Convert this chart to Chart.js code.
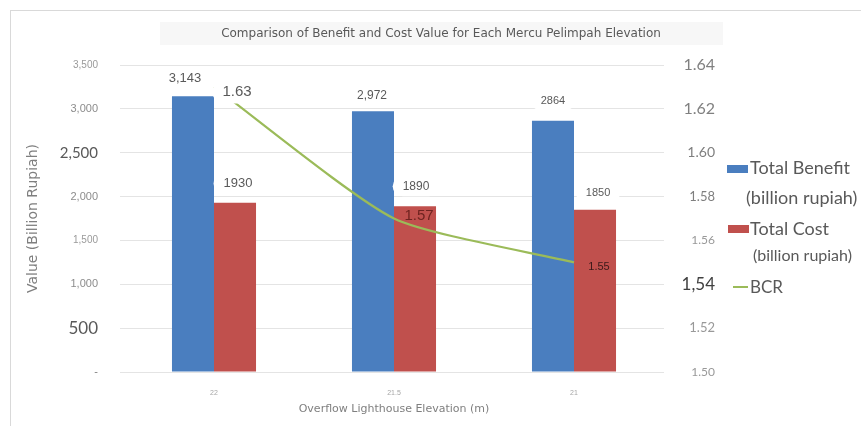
<!DOCTYPE html>
<html>
<head>
<meta charset="utf-8">
<title>Benefit and Cost by Mercu Pelimpah Elevation</title>
<script src="https://cdn.jsdelivr.net/npm/chart.js@4.4.1/dist/chart.umd.min.js"></script>
<style>
  html, body { margin: 0; padding: 0; background: #fff; overflow: hidden; }
  #wrap { position: relative; width: 861px; height: 426px; overflow: hidden; }
  #frame { position: absolute; left: 10px; top: 10px; width: 900px; height: 500px; border: 1px solid #d9d9d9; box-sizing: border-box; }
  #chart { position: absolute; left: 0; top: 0; }
  .legend-text { position: absolute; font-family: Lato, "Open Sans", sans-serif; color: #595959; white-space: nowrap; line-height: 1; }
  .legend-swatch { position: absolute; }
</style>
</head>
<body>
<div id="wrap">
  <div id="frame"></div>
  <canvas id="chart" width="861" height="426"></canvas>
  <div id="legend"></div>
</div>
<script>
// Values per crest elevation
const elevations = ['22', '21.5', '21'];
const totalBenefit = [3143, 2972, 2864];
const totalCost = [1930, 1890, 1850];
const bcr = [1.63, 1.57, 1.55];

// Text shown on the marks
const benefitLabels = ['3,143', '2,972', '2864'];
const costLabels = ['1930', '1890', '1850'];
const bcrLabels = ['1.63', '1.57', '1.55'];

// Axis tick text, bottom to top
const valueTicks = ['-', '500', '1,000', '1,500', '2,000', '2,500', '3,000', '3,500'];
const bcrTicks = ['1.50', '1.52', '1,54', '1.56', '1.58', '1.60', '1.62', '1.64'];

const BLUE = '#4a7ebf';
const RED = '#c0504d';
const GREEN = '#9bbb59';

// Heading with its pale backing strip
const chartHeading = {
    id: 'chartHeading',
    beforeDraw(chart, args, opts) {
        const ctx = chart.ctx;
        ctx.save();
        ctx.fillStyle = '#f7f7f7';
        ctx.fillRect(160, 22, 563, 23);
        ctx.font = '12px "DejaVu Sans", sans-serif';
        ctx.fillStyle = '#595959';
        ctx.textAlign = 'center';
        ctx.textBaseline = 'middle';
        ctx.fillText(opts.text, 441, 34);
        ctx.restore();
    }
};

// Value labels next to bars and line points
const valueLabels = {
    id: 'valueLabels',
    afterDatasetsDraw(chart, args, opts) {
        const ctx = chart.ctx;
        opts.sets.forEach((set, di) => {
            const meta = chart.getDatasetMeta(di);
            meta.data.forEach((el, i) => {
                const x = el.x + set.dx[i];
                const y = el.y + set.dy[i];
                ctx.save();
                ctx.font = set.size[i] + 'px "Liberation Sans", Arial, sans-serif';
                ctx.textAlign = 'center';
                ctx.textBaseline = 'middle';
                if (set.box[i]) {
                    const w = ctx.measureText(set.texts[i]).width + 20;
                    const h = set.size[i] + 8;
                    ctx.fillStyle = '#ffffff';
                    ctx.beginPath();
                    ctx.roundRect(x - w / 2, y - h / 2, w, h, h / 2);
                    ctx.fill();
                }
                ctx.fillStyle = set.color[i];
                ctx.fillText(set.texts[i], x, y);
                ctx.restore();
            });
        });
    }
};

const valueTickStyle = {
    size: [11, 17, 11, 10, 11, 15, 11, 10],
    family: ['Liberation Sans', 'Lato', 'Liberation Sans', 'Liberation Sans', 'Liberation Sans', 'Lato', 'Liberation Sans', 'Liberation Sans'],
    color: ['#7f7f7f', '#595959', '#8c8c8c', '#9a9a9a', '#8c8c8c', '#595959', '#8c8c8c', '#9a9a9a']
};
const bcrTickStyle = {
    size: [12, 13, 17, 12, 13, 14, 16, 16],
    color: ['#999999', '#999999', '#404040', '#999999', '#7f7f7f', '#7f7f7f', '#808080', '#808080']
};

const ctx = document.getElementById('chart');

const chart = new Chart(ctx, {
    data: {
        labels: elevations,
        datasets: [
            {
                type: 'bar',
                label: 'Total Benefit (billion rupiah)',
                data: totalBenefit,
                backgroundColor: BLUE,
                yAxisID: 'y',
                order: 1,
                barPercentage: 1,
                categoryPercentage: 0.467
            },
            {
                type: 'bar',
                label: 'Total Cost (billion rupiah)',
                data: totalCost,
                backgroundColor: RED,
                yAxisID: 'y',
                order: 1,
                barPercentage: 1,
                categoryPercentage: 0.467
            },
            {
                type: 'line',
                label: 'BCR',
                data: bcr,
                borderColor: GREEN,
                backgroundColor: GREEN,
                borderWidth: 2.2,
                pointRadius: 0,
                tension: 0.2,
                yAxisID: 'y1',
                order: 0
            }
        ]
    },
    options: {
        responsive: false,
        animation: false,
        layout: {
            padding: { top: 65, right: 146, bottom: 0, left: 0 }
        },
        plugins: {
            legend: { display: false },
            tooltip: { enabled: false },
            chartHeading: {
                text: 'Comparison of Benefit and Cost Value for Each Mercu Pelimpah Elevation'
            },
            valueLabels: {
                sets: [
                    {
                        texts: benefitLabels,
                        size: [13, 12, 11],
                        dx: [-8, -1, 0],
                        dy: [-18, -16, -20],
                        color: ['#595959', '#595959', '#595959'],
                        box: [true, true, true]
                    },
                    {
                        texts: costLabels,
                        size: [13, 12, 11],
                        dx: [3, 1, 3],
                        dy: [-19, -20, -17],
                        color: ['#595959', '#595959', '#595959'],
                        box: [true, true, true]
                    },
                    {
                        texts: bcrLabels,
                        size: [15, 15, 11],
                        dx: [23, 25, 25],
                        dy: [5, -3, 5],
                        color: ['#595959', '#6e2320', '#3a1a1a'],
                        box: [true, false, false]
                    }
                ]
            }
        },
        scales: {
            x: {
                grid: { display: false },
                border: { display: false },
                ticks: {
                    color: '#a6a6a6',
                    padding: 9,
                    font: { size: 7, family: 'Liberation Sans' }
                },
                title: {
                    display: true,
                    text: 'Overflow Lighthouse Elevation (m)',
                    color: '#7f7f7f',
                    font: { size: 11, family: 'DejaVu Sans' },
                    padding: { top: 0, bottom: 10 }
                },
                afterFit: function(scale) {
                    scale.height = 54;
                }
            },
            y: {
                position: 'left',
                min: 0,
                max: 3500,
                ticks: {
                    stepSize: 500,
                    padding: 22,
                    callback: function(value, index) {
                        return valueTicks[index];
                    },
                    color: function(c) {
                        return valueTickStyle.color[c.index];
                    },
                    font: function(c) {
                        return { size: valueTickStyle.size[c.index], family: valueTickStyle.family[c.index] };
                    }
                },
                grid: {
                    color: '#e4e4e4',
                    tickLength: 4
                },
                border: { display: false },
                title: {
                    display: true,
                    text: 'Value (Billion Rupiah)',
                    color: '#7f7f7f',
                    font: { size: 14, family: 'DejaVu Sans' },
                    padding: { top: 25, bottom: 0 }
                },
                afterFit: function(scale) {
                    scale.width = 124;
                }
            },
            y1: {
                position: 'right',
                min: 1.50,
                max: 1.64,
                ticks: {
                    stepSize: 0.02,
                    padding: 8,
                    crossAlign: 'far',
                    callback: function(value, index) {
                        return bcrTicks[index];
                    },
                    color: function(c) {
                        return bcrTickStyle.color[c.index];
                    },
                    font: function(c) {
                        return { size: bcrTickStyle.size[c.index], family: 'Lato' };
                    }
                },
                grid: { display: false },
                border: { display: false },
                afterFit: function(scale) {
                    scale.width = 51;
                }
            }
        }
    },
    plugins: [chartHeading, valueLabels]
});

// Legend beside the right axis, built from the datasets
function buildLegend() {
    const legend = document.getElementById('legend');
    const rows = [
        { swatch: { left: 727, top: 165, width: 21, height: 8 }, lines: [{ left: 750, top: 157.5, size: 18 }, { left: 746, top: 188, size: 18 }] },
        { swatch: { left: 728, top: 225, width: 21, height: 8 }, lines: [{ left: 750, top: 218.5, size: 18 }, { left: 753, top: 246.5, size: 16 }] },
        { swatch: { left: 733, top: 286, width: 15, height: 2 }, lines: [{ left: 750, top: 278, size: 17 }] }
    ];

    chart.data.datasets.forEach((ds, i) => {
        const row = rows[i];
        const sw = document.createElement('div');
        sw.className = 'legend-swatch';
        sw.style.left = row.swatch.left + 'px';
        sw.style.top = row.swatch.top + 'px';
        sw.style.width = row.swatch.width + 'px';
        sw.style.height = row.swatch.height + 'px';
        sw.style.background = ds.type === 'line' ? ds.borderColor : ds.backgroundColor;
        legend.appendChild(sw);

        const cut = ds.label.indexOf(' (');
        const parts = cut > 0 ? [ds.label.slice(0, cut), ds.label.slice(cut + 1)] : [ds.label];
        parts.forEach((text, j) => {
            const pos = row.lines[j];
            const span = document.createElement('div');
            span.className = 'legend-text';
            span.textContent = text;
            span.style.left = pos.left + 'px';
            span.style.top = pos.top + 'px';
            span.style.fontSize = pos.size + 'px';
            legend.appendChild(span);
        });
    });
}

buildLegend();
</script>
</body>
</html>
